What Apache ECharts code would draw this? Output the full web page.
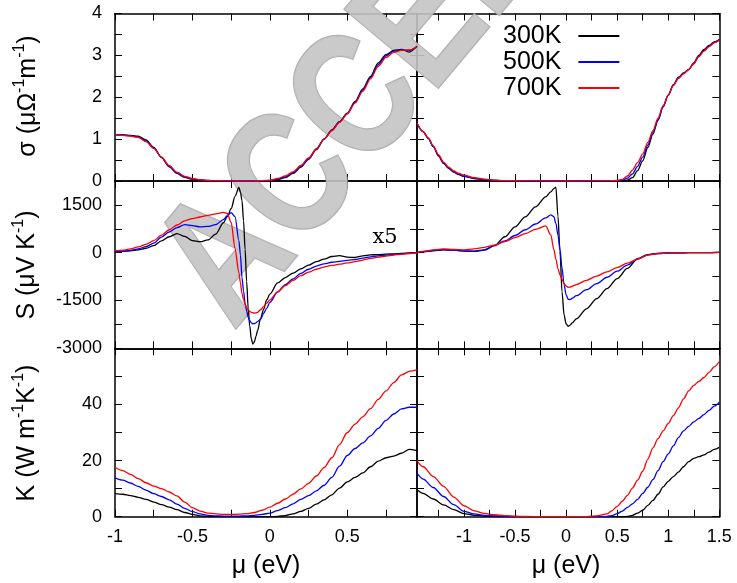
<!DOCTYPE html>
<html><head><meta charset="utf-8">
<script src="https://cdn.jsdelivr.net/npm/echarts@6/dist/echarts.min.js"></script>
<style>html,body{margin:0;padding:0;background:#fff}#c{width:737px;height:583px}</style>
</head><body><div id="c"></div>
<script>
// ---------- data ----------
const temps = ['300K', '500K', '700K'];
const colors = ['#000000', '#0000ff', '#ff0000'];

// left column chemical potential grid (eV)
const muLeft = [-1,-0.95,-0.9,-0.85,-0.8,-0.75,-0.7,-0.65,-0.6,-0.55,-0.5,-0.45,-0.4,-0.35,-0.3,-0.25,-0.2,-0.15,-0.1,-0.05,0,0.05,0.1,0.15,0.2,0.25,0.3,0.35,0.4,0.45,0.5,0.55,0.6,0.65,0.7,0.75,0.8,0.85,0.9,0.95];

// sigma, left
const sigL300 = [1.10,1.10,1.09,1.07,0.98,0.80,0.56,0.34,0.18,0.09,0.04,0.02,0.01,0,0,0,0,0,0,0,0.005,0.03,0.08,0.18,0.33,0.52,0.75,1.00,1.22,1.42,1.62,1.90,2.20,2.50,2.82,3.02,3.12,3.14,3.08,3.22];
const sigL500 = [1.10,1.10,1.08,1.05,0.96,0.79,0.57,0.35,0.19,0.10,0.05,0.025,0.012,0.005,0.002,0,0,0,0,0.003,0.01,0.045,0.10,0.20,0.35,0.53,0.76,1.00,1.21,1.41,1.61,1.88,2.17,2.47,2.78,2.99,3.10,3.13,3.12,3.21];
const sigL700 = [1.10,1.09,1.07,1.04,0.94,0.78,0.57,0.37,0.21,0.11,0.06,0.03,0.015,0.007,0.004,0.002,0.002,0.003,0.005,0.01,0.02,0.06,0.12,0.22,0.37,0.55,0.77,1.00,1.20,1.40,1.60,1.86,2.14,2.44,2.74,2.95,3.07,3.12,3.13,3.20];

// sigma, right
const muSigR = [-1.46,-1.4,-1.35,-1.3,-1.25,-1.2,-1.15,-1.1,-1.05,-1.0,-0.9,-0.8,-0.7,-0.6,-0.4,0,0.4,0.5,0.55,0.6,0.65,0.7,0.75,0.8,0.85,0.9,0.95,1.0,1.05,1.1,1.15,1.2,1.25,1.3,1.35,1.4,1.45,1.5];
const sigR300 = [1.38,1.18,1.02,0.82,0.60,0.42,0.30,0.21,0.15,0.11,0.06,0.03,0.012,0.004,0,0,0,0,0,0.02,0.08,0.25,0.48,0.80,1.12,1.45,1.77,2.05,2.30,2.48,2.58,2.66,2.82,3.00,3.14,3.24,3.32,3.38];
const sigR500 = [1.38,1.18,1.02,0.82,0.61,0.43,0.31,0.22,0.16,0.12,0.07,0.035,0.015,0.006,0.001,0,0.001,0.005,0.02,0.07,0.17,0.35,0.57,0.86,1.16,1.47,1.78,2.05,2.29,2.46,2.57,2.66,2.81,2.98,3.12,3.22,3.31,3.37];
const sigR700 = [1.38,1.18,1.03,0.84,0.63,0.45,0.33,0.24,0.18,0.14,0.08,0.045,0.02,0.01,0.002,0,0.003,0.012,0.04,0.12,0.26,0.44,0.65,0.92,1.20,1.50,1.80,2.05,2.28,2.45,2.56,2.66,2.80,2.97,3.10,3.21,3.30,3.36];

// Seebeck, left
const muSL = [-1,-0.95,-0.9,-0.85,-0.8,-0.75,-0.7,-0.65,-0.6,-0.55,-0.5,-0.45,-0.4,-0.35,-0.3,-0.275,-0.25,-0.225,-0.2,-0.19,-0.18,-0.17,-0.16,-0.15,-0.14,-0.13,-0.12,-0.11,-0.1,-0.09,-0.08,-0.06,-0.04,-0.02,0,0.05,0.1,0.15,0.2,0.25,0.3,0.35,0.4,0.45,0.5,0.55,0.6,0.65,0.7,0.75,0.8,0.85,0.9,0.95];
const sL300 = [30,40,60,90,140,220,370,500,600,510,380,345,400,580,940,1130,1380,1770,2050,1900,1640,1000,100,-900,-1750,-2300,-2700,-2870,-2800,-2630,-2450,-2060,-1770,-1475,-1300,-950,-780,-640,-510,-390,-280,-200,-120,-90,-140,-150,-100,-70,-60,-45,-35,-20,-10,5];
const sL500 = [30,45,75,120,190,300,490,650,790,880,850,810,825,880,1040,1160,1260,1130,380,-80,-780,-1200,-1580,-1830,-2030,-2130,-2200,-2230,-2225,-2200,-2160,-2090,-1900,-1740,-1560,-1230,-1000,-820,-650,-520,-420,-350,-300,-270,-240,-215,-170,-130,-100,-75,-55,-35,-20,0];
const sL700 = [60,80,120,180,260,380,550,720,870,1000,1070,1120,1170,1220,1265,1230,950,130,-630,-950,-1280,-1470,-1630,-1720,-1790,-1840,-1870,-1885,-1895,-1890,-1870,-1790,-1690,-1580,-1480,-1230,-1030,-870,-720,-610,-520,-450,-400,-360,-320,-280,-230,-180,-140,-105,-75,-50,-25,-5];

// Seebeck, right
const muSR = [-1.46,-1.4,-1.3,-1.2,-1.1,-1.0,-0.9,-0.8,-0.7,-0.6,-0.5,-0.4,-0.3,-0.2,-0.15,-0.12,-0.1,-0.08,-0.06,-0.04,-0.02,0,0.02,0.04,0.06,0.1,0.2,0.3,0.4,0.5,0.6,0.7,0.8,0.9,1.0,1.1,1.2,1.3,1.4,1.5];
const sR300 = [0,30,60,90,80,50,40,80,220,500,813,1126,1440,1753,1910,2010,2060,1150,50,-1230,-1950,-2230,-2310,-2270,-2200,-2075,-1760,-1443,-1127,-811,-495,-190,-60,-20,-10,-5,0,0,5,10];
const sR500 = [0,35,70,95,80,55,50,90,230,370,540,720,900,1090,1185,1130,920,560,100,-480,-1000,-1320,-1460,-1470,-1430,-1350,-1160,-970,-770,-580,-390,-200,-70,-25,-10,-5,0,0,5,10];
const sR700 = [0,40,90,120,100,90,120,170,240,350,470,600,730,840,560,100,-205,-505,-692,-840,-975,-1040,-1085,-1080,-1050,-1000,-866,-732,-600,-466,-330,-200,-75,-30,-15,-5,0,0,5,10];

// thermal conductivity, left (same grid as muLeft)
const kL300 = [8.2,8.0,7.5,6.9,6.2,5.2,4.3,3.4,2.5,1.5,0.8,0.3,0.1,0,0,0,0,0,0,0,0,0.1,0.4,1.0,1.9,3.0,4.5,6.0,7.8,10.2,12.4,14.0,15.6,17.8,19.8,21.0,21.6,22.6,24.0,23.5];
const kL500 = [13.8,13.0,12.0,10.8,9.5,8.2,7.2,6.0,4.5,3.0,1.8,1.0,0.5,0.3,0.2,0.2,0.2,0.3,0.5,0.8,1.3,2.2,3.2,4.6,6.2,7.5,9.2,11.2,14.0,18.0,21.8,24.3,26.3,28.8,31.5,34.3,36.6,38.4,39.0,39.0];
const kL700 = [17.6,16.4,15.1,13.6,12.1,10.9,10.0,8.8,7.4,5.2,3.2,2.0,1.3,1.0,0.8,0.8,0.9,1.1,1.5,2.3,3.4,4.8,6.3,8.0,9.9,11.9,14.5,17.5,21.0,25.7,30.0,33.0,35.6,38.5,41.8,44.8,47.8,50.5,51.8,52.3];

// thermal conductivity, right
const muKR = [-1.46,-1.4,-1.3,-1.2,-1.1,-1.0,-0.9,-0.8,-0.7,-0.6,-0.5,-0.4,-0.2,0,0.2,0.3,0.4,0.45,0.5,0.55,0.6,0.65,0.7,0.75,0.8,0.85,0.9,0.95,1.0,1.05,1.1,1.15,1.2,1.25,1.3,1.35,1.4,1.45,1.5];
const kR300 = [9.7,8.3,6.3,4.2,2.5,1.1,0.5,0.25,0.1,0.05,0,0,0,0,0,0,0,0,0,0,0.1,0.5,1.3,2.3,4.0,5.8,8.0,10.6,12.6,14.3,15.9,17.8,19.6,20.8,21.4,22.0,23.0,24.0,24.7];
const kR500 = [15.5,13.4,10.4,7.2,4.3,1.9,1.0,0.5,0.25,0.1,0.05,0,0,0,0,0,0.1,0.4,1.1,2.0,3.3,4.6,6.2,8.3,10.5,13.2,16.4,19.6,22.4,25.2,28.2,30.6,32.2,33.8,35.0,36.4,37.9,39.4,40.8];
const kR700 = [20.0,17.8,14.3,10.8,7.0,3.9,2.1,1.2,0.7,0.4,0.2,0.1,0,0,0.05,0.3,1.0,2.2,3.7,5.5,7.6,10.2,13.0,16.2,20.5,24.5,27.8,30.6,33.2,36.0,38.8,42.0,44.8,46.8,48.2,49.6,51.4,53.4,55.3];

// ticks and tick labels
const xTicksLeft = [-1,-0.75,-0.5,-0.25,0,0.25,0.5,0.75];
const xLabelsLeft = [-1,-0.5,0,0.5];
const xTicksRight = [-1.25,-1,-0.75,-0.5,-0.25,0,0.25,0.5,0.75,1,1.25,1.5];
const xLabelsRight = [-1,-0.5,0,0.5,1,1.5];
const sigTicks = [0,0.5,1,1.5,2,2.5,3,3.5,4];
const sigLabels = [0,1,2,3,4];
const sTicks = [-3000,-2250,-1500,-750,0,750,1500,2250];
const sLabels = [-3000,-1500,0,1500];
const kTicks = [0,10,20,30,40,50,60];
const kLabels = [0,20,40];

// ---------- layout ----------
const FONT = 'Liberation Sans';
const panels = [
  {grid:{left:115,top:13.5,width:302,height:167.5}, xr:[-1,0.95], yr:[0,4], xt:xTicksLeft, xl:null, yt:sigTicks, yl:sigLabels, mu:muLeft, ys:[sigL300,sigL500,sigL700]},
  {grid:{left:417,top:13.5,width:302.3,height:167.5}, xr:[-1.46,1.5], yr:[0,4], xt:xTicksRight, xl:null, yt:sigTicks, yl:null, mu:muSigR, ys:[sigR300,sigR500,sigR700]},
  {grid:{left:115,top:181,width:302,height:167.3}, xr:[-1,0.95], yr:[-3000,2250], xt:xTicksLeft, xl:null, yt:sTicks, yl:sLabels, mu:muSL, ys:[sL300,sL500,sL700]},
  {grid:{left:417,top:181,width:302.3,height:167.3}, xr:[-1.46,1.5], yr:[-3000,2250], xt:xTicksRight, xl:null, yt:sTicks, yl:null, mu:muSR, ys:[sR300,sR500,sR700]},
  {grid:{left:115,top:348.3,width:302,height:168.4}, xr:[-1,0.95], yr:[0,60], xt:xTicksLeft, xl:xLabelsLeft, yt:kTicks, yl:kLabels, mu:muLeft, ys:[kL300,kL500,kL700]},
  {grid:{left:417,top:348.3,width:302.3,height:168.4}, xr:[-1.46,1.5], yr:[0,60], xt:xTicksRight, xl:xLabelsRight, yt:kTicks, yl:null, mu:muKR, ys:[kR300,kR500,kR700]}
];

const grids = [], xAxes = [], yAxes = [], series = [];
const lineStyle = {color:'#000', width:1.5};
function axis(gi, pos, range, ticks, labels, isX) {
  return {
    type:'value', gridIndex:gi, position:pos, min:range[0], max:range[1],
    axisLine:{show:true, onZero:false, lineStyle:lineStyle},
    axisTick:{show:true, inside:true, length:7, customValues:ticks, lineStyle:{color:'#000', width:1}},
    axisLabel:{show:!!labels, customValues:labels || [], margin:isX ? 11 : 13,
      formatter:(v) => String(v),
      fontFamily:FONT, fontSize:18, color:'#000'},
    splitLine:{show:false}, minorTick:{show:false}
  };
}
panels.forEach((p, gi) => {
  grids.push(Object.assign({containLabel:false, outerBoundsMode:'none'}, p.grid));
  xAxes.push(axis(gi, 'bottom', p.xr, p.xt, p.xl, true));
  xAxes.push(axis(gi, 'top', p.xr, p.xt, null, true));
  yAxes.push(axis(gi, 'left', p.yr, p.yt, p.yl, false));
  yAxes.push(axis(gi, 'right', p.yr, p.yt, null, false));
  p.ys.forEach((ys, ti) => {
    series.push({
      type:'line', name:temps[ti], xAxisIndex:2*gi, yAxisIndex:2*gi,
      data:p.mu.map((m, i) => [m, ys[i]]),
      showSymbol:false, smooth:0.3, smoothMonotone:'x', clip:true,
      lineStyle:{color:colors[ti], width:1.3}, itemStyle:{color:colors[ti]}, z:3
    });
  });
});

const titleRich = {
  b:{fontFamily:FONT, fontSize:25, color:'#000', lineHeight:32, verticalAlign:'middle'},
  s:{fontFamily:FONT, fontSize:16, color:'#000', lineHeight:16, verticalAlign:'top'}
};
function yTitle(txt, x, y) {
  return {type:'text', x:x, y:y, rotation:Math.PI/2, z:10,
    style:{text:txt, rich:titleRich, align:'center', verticalAlign:'middle'}};
}
const graphics = [
  // watermark
  {type:'text', x:196, y:300, rotation:50*Math.PI/180, scaleX:0.8, scaleY:1, z:1, silent:true,
    style:{text:'ACCEPTED', font:'bold 178px "Liberation Sans"', fill:'#c4c4c4',
      stroke:'#a6a6a6', lineWidth:2, align:'left', verticalAlign:'middle',
      shadowBlur:6, shadowColor:'rgba(0,0,0,0.35)', shadowOffsetX:3, shadowOffsetY:3, opacity:0.9}},
  yTitle('{b|σ (μΩ}{s|-1}{b|m}{s|-1}{b|)}', 28, 96),
  yTitle('{b|S (μV K}{s|-1}{b|)}', 27, 265),
  yTitle('{b|K (W m}{s|-1}{b|K}{s|-1}{b|)}', 27, 433),
  {type:'text', x:266, y:566, z:10, style:{text:'μ (eV)', font:'25px "Liberation Sans"', fill:'#000', align:'center', verticalAlign:'middle'}},
  {type:'text', x:566, y:566, z:10, style:{text:'μ (eV)', font:'25px "Liberation Sans"', fill:'#000', align:'center', verticalAlign:'middle'}},
  {type:'text', x:385, y:238, z:10, style:{text:'x5', font:'21px "DejaVu Serif"', fill:'#000', align:'center', verticalAlign:'middle'}}
];

const chart = echarts.init(document.getElementById('c'), null, {renderer:'canvas'});
chart.setOption({
  animation:false,
  backgroundColor:'#ffffff',
  grid:grids, xAxis:xAxes, yAxis:yAxes, series:series,
  legend:{data:temps, orient:'vertical', left:498, top:18, align:'right', icon:'rect',
    itemWidth:41, itemHeight:2, itemGap:0, selectedMode:false,
    textStyle:{fontFamily:FONT, fontSize:25, color:'#000', lineHeight:26, padding:[0,12,0,0]}},
  graphic:graphics
});
</script></body></html>
